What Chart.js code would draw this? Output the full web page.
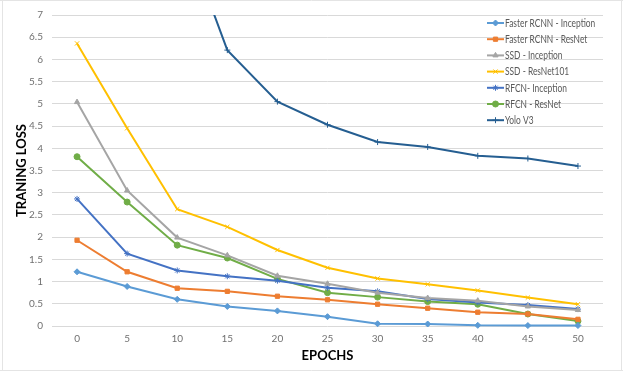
<!DOCTYPE html>
<html>
<head>
<meta charset="utf-8">
<script src="https://cdn.jsdelivr.net/npm/chart.js@4.4.0/dist/chart.umd.min.js"></script>
<style>
  html, body { margin: 0; padding: 0; background: #fff; }
  #wrap { width: 623px; height: 377px; position: relative; }
</style>
</head>
<body>
<div id="wrap"><canvas id="lossChart"></canvas></div>
<script>
// Training loss per epoch
const epochs = ['0', '5', '10', '15', '20', '25', '30', '35', '40', '45', '50'];

const fasterRcnnInception = [1.22, 0.89, 0.60, 0.44, 0.34, 0.21, 0.05, 0.045, 0.015, 0.01, 0.01];
const fasterRcnnResnet    = [1.93, 1.22, 0.85, 0.78, 0.67, 0.59, 0.49, 0.40, 0.31, 0.27, 0.15];
const ssdInception        = [5.04, 3.05, 1.99, 1.59, 1.13, 0.95, 0.75, 0.63, 0.57, 0.44, 0.36];
const ssdResnet101        = [6.36, 4.45, 2.63, 2.23, 1.71, 1.31, 1.07, 0.94, 0.80, 0.64, 0.49];
const rfcnInception       = [2.86, 1.63, 1.25, 1.12, 1.02, 0.86, 0.78, 0.61, 0.53, 0.47, 0.38];
const rfcnResnet          = [3.81, 2.79, 1.82, 1.53, 1.06, 0.75, 0.65, 0.55, 0.49, 0.27, 0.11];
const yoloV3              = [13.5, 11.0, 9.25, 6.21, 5.05, 4.53, 4.14, 4.03, 3.83, 3.77, 3.60];

const seriesNames = ['Faster RCNN - Inception', 'Faster RCNN - ResNet', 'SSD - Inception',
  'SSD - ResNet101', 'RFCN- Inception', 'RFCN - ResNet', 'Yolo V3'];
const yTicks = [0, 0.5, 1, 1.5, 2, 2.5, 3, 3.5, 4, 4.5, 5, 5.5, 6, 6.5, 7];

const FONT = 'Lato, "Liberation Sans", sans-serif';
const GREY = '#595959';

function mkSet(label, data, color, style) {
  return {
    label, data,
    borderColor: color,
    backgroundColor: color,
    borderWidth: 2,
    pointStyle: style,
    pointRadius: 3,
    pointBorderWidth: 1,
    tension: 0,
    clip: { left: 6, right: 6, top: 0, bottom: 6 }
  };
}

// legend drawn on top of the plot, like the Excel one
const overlayLegend = {
  id: 'overlayLegend',
  afterDraw(chart) {
    const ctx = chart.ctx;
    const drawPoint = Chart.helpers && Chart.helpers.drawPoint;
    ctx.save();
    ctx.font = '10.5px ' + FONT;
    ctx.textBaseline = 'middle';
    ctx.textAlign = 'left';
    chart.data.datasets.forEach((ds, i) => {
      const y = 23 + i * 16.2;
      ctx.strokeStyle = ds.borderColor;
      ctx.lineWidth = 2;
      ctx.beginPath();
      ctx.moveTo(487, y);
      ctx.lineTo(504, y);
      ctx.stroke();
      if (drawPoint) {
        ctx.fillStyle = ds.backgroundColor;
        ctx.lineWidth = 1;
        drawPoint(ctx, { pointStyle: ds.pointStyle, radius: 3, borderWidth: 1, rotation: 0 }, 495.5, y);
      }
      ctx.fillStyle = GREY;
      // squeeze a little, the original font is narrower than Lato
      const w = ctx.measureText(ds.label).width * 0.8;
      ctx.fillText(ds.label, 505, y + 0.5, w);
    });
    ctx.restore();
  }
};

// faint worksheet cell edges seen around the chart
const sheetFrame = {
  id: 'sheetFrame',
  beforeDraw(chart) {
    const ctx = chart.ctx;
    ctx.save();
    ctx.fillStyle = '#fff';
    ctx.fillRect(0, 0, chart.width, chart.height);
    ctx.strokeStyle = '#e4e4e4';
    ctx.lineWidth = 1;
    ctx.beginPath();
    ctx.moveTo(0, 0.5); ctx.lineTo(623, 0.5);
    ctx.moveTo(2.5, 0); ctx.lineTo(2.5, 371);
    ctx.moveTo(0, 370.5); ctx.lineTo(623, 370.5);
    ctx.moveTo(621.5, 0); ctx.lineTo(621.5, 371);
    ctx.stroke();
    ctx.restore();
  }
};

const ctx = document.getElementById('lossChart').getContext('2d');
const chart = new Chart(ctx, {
  type: 'line',
  data: {
    labels: epochs,
    datasets: [
      mkSet(seriesNames[0], fasterRcnnInception, '#5B9BD5', 'rectRot'),
      mkSet(seriesNames[1], fasterRcnnResnet, '#ED7D31', 'rect'),
      mkSet(seriesNames[2], ssdInception, '#A5A5A5', 'triangle'),
      mkSet(seriesNames[3], ssdResnet101, '#FFC000', 'crossRot'),
      mkSet(seriesNames[4], rfcnInception, '#4472C4', 'star'),
      mkSet(seriesNames[5], rfcnResnet, '#70AD47', 'circle'),
      mkSet(seriesNames[6], yoloV3, '#255E91', 'cross')
    ]
  },
  options: {
    responsive: true,
    maintainAspectRatio: false,
    animation: false,
    devicePixelRatio: 1,
    layout: { padding: { left: 0, top: 10, right: 20, bottom: 0 } },
    plugins: {
      legend: { display: false },
      tooltip: { enabled: false }
    },
    scales: {
      x: {
        offset: true,
        grid: { display: false, drawTicks: false },
        border: { display: false },
        ticks: { color: '#707070', font: { family: FONT, size: 10 }, padding: 7, maxRotation: 0 },
        title: { display: true, text: 'EPOCHS', color: '#000',
          font: { family: FONT, size: 13, weight: 'bold' }, padding: { top: 0, bottom: 13 } },
        afterFit(scale) { scale.height = 51; }
      },
      y: {
        min: 0,
        max: 7,
        afterBuildTicks(scale) { scale.ticks = yTicks.map(v => ({ value: v })); },
        grid: { color: '#d9d9d9', drawTicks: false },
        border: { display: false },
        ticks: { color: '#707070', font: { family: FONT, size: 10 }, padding: 9,
          callback: v => String(v) },
        title: { display: true, text: 'TRANING LOSS', color: '#000',
          font: { family: FONT, size: 13, weight: 'bold' }, padding: { top: 14, bottom: 0 } },
        afterFit(scale) { scale.width = 52; }
      }
    }
  },
  plugins: [sheetFrame, overlayLegend]
});
</script>
</body>
</html>
